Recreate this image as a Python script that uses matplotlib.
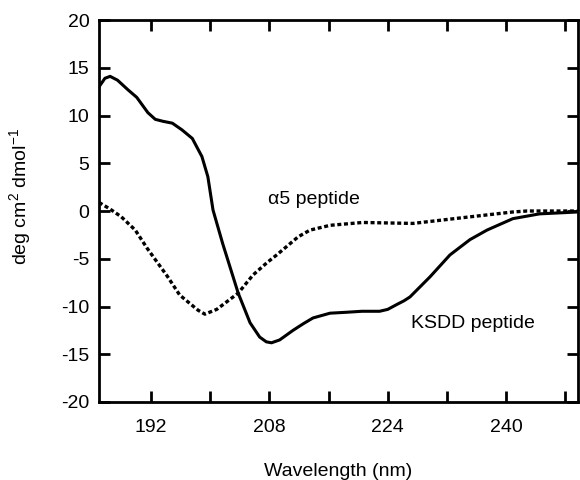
import matplotlib
matplotlib.use("Agg")
import matplotlib.pyplot as plt

plt.rcParams['font.family'] = ['Liberation Sans', 'DejaVu Sans']
plt.rcParams['mathtext.fontset'] = 'custom'
plt.rcParams['mathtext.rm'] = 'Liberation Sans'
plt.rcParams['mathtext.it'] = 'Liberation Sans'
plt.rcParams['mathtext.default'] = 'rm'

# KSDD peptide (solid)
ksdd_x = [185.0, 185.8, 186.5, 187.5, 188.9, 190.1, 191.6, 192.6, 193.6, 194.9, 196.2,
          197.6, 198.9, 199.7, 200.4, 201.7, 203.8, 205.4, 206.7, 207.6, 208.3, 209.4,
          211.2, 212.6, 213.9, 216.2, 218.5, 220.5, 222.9, 224.0, 225.2, 226.2, 227.0,
          229.7, 232.4, 235.1, 237.4, 240.9, 244.5, 249.7]
ksdd_y = [13.0, 13.9, 14.1, 13.7, 12.7, 11.9, 10.3, 9.6, 9.4, 9.2, 8.5,
          7.6, 5.7, 3.6, 0.1, -3.4, -8.6, -11.7, -13.2, -13.7, -13.8, -13.5,
          -12.5, -11.8, -11.2, -10.7, -10.6, -10.5, -10.5, -10.3, -9.8, -9.4, -9.0,
          -6.9, -4.6, -3.0, -2.0, -0.8, -0.3, -0.1]

# alpha5 peptide (dotted)
a5_x = [185.0, 186.5, 188.0, 189.9, 191.5, 192.8, 194.2, 195.9, 197.3, 198.4, 199.3,
        200.9, 203.8, 205.8, 207.7, 209.0, 211.9, 213.5, 216.2, 220.6, 227.4, 234.1,
        240.9, 242.8, 249.7]
a5_y = [0.9, 0.2, -0.6, -2.0, -3.9, -5.3, -6.8, -8.8, -9.7, -10.4, -10.8,
        -10.3, -8.6, -6.7, -5.4, -4.6, -2.7, -2.0, -1.5, -1.2, -1.3, -0.7,
        -0.1, 0.0, 0.0]

xticks = [192, 200, 208, 216, 224, 232, 240, 248]
xticklabels = ['192', '', '208', '', '224', '', '240', '']
yticks = [-20, -15, -10, -5, 0, 5, 10, 15, 20]

FS = 14

fig = plt.figure(figsize=(5.8, 4.8), dpi=100)
ax = fig.add_axes([0.1707, 0.1625, 0.8259, 0.7958])

ax.plot(ksdd_x, ksdd_y, color='black', lw=2.2)
ax.plot(a5_x, a5_y, color='black', lw=2.4, linestyle=(0, (1.2, 0.8)))

ax.set_xlim(185, 249.7)
ax.set_ylim(-20, 20)
ax.set_xticks(xticks)
ax.set_xticklabels(xticklabels)
ax.set_yticks(yticks)
ax.set_yticklabels([str(v) for v in yticks])
ax.tick_params(direction='in', length=8, width=2, top=True, right=True,
               labelsize=FS, pad=7)
ax.tick_params(axis='x', pad=12)
for s in ax.spines.values():
    s.set_linewidth(2)

ax.text(207.8, 1.2, '\u03b15 peptide', fontsize=FS, va='center', ha='left')
ax.text(227.2, -11.8, 'KSDD peptide', fontsize=FS, va='center', ha='left')

ax.set_xlabel('Wavelength (nm)', fontsize=FS, labelpad=20)
fig.text(20 / 580, 1 - 197 / 480, r'deg cm$^{2}$ dmol$^{-1}$', fontsize=FS,
         rotation=90, ha='center', va='center')

fig.savefig('out.png', dpi=100)
